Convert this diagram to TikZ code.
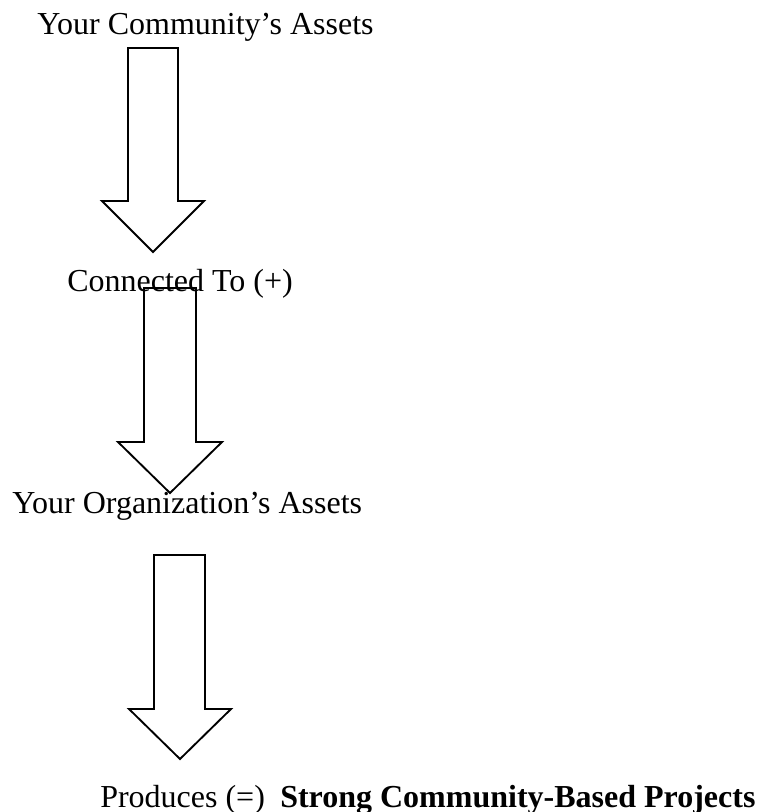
\documentclass[tikz,border=0pt]{standalone}
\usepackage{fontspec}
\setmainfont{Liberation Serif}

\tikzstyle{txt} = [inner sep=0pt,anchor=base west,font=\fontsize{24}{28}\selectfont]
\tikzstyle{blockarrow} = [draw,line width=1.4pt,line join=miter]

\begin{document}
\begin{tikzpicture}[x=0.75pt,y=-0.75pt]
  \useasboundingbox (0,0) rectangle (760,812);

  \node[txt] at (37,35)   (community) {Your Community's Assets};
  \node[txt] at (67,292)  (connected) {Connected To (+)};
  \node[txt] at (12,513)  (organization) {Your Organization's Assets};
  \node[txt] at (100,807) (produces) {Produces (=)};
  \node[txt,font=\fontsize{24}{28}\selectfont\bfseries] at (280,807) (projects) {Strong Community-Based Projects};

  \draw[blockarrow] (128,48) -- (178,48) -- (178,201) -- (204,201) -- (153,252)
                    -- (102,201) -- (128,201) -- cycle;
  \draw[blockarrow] (144,288) -- (196,288) -- (196,442) -- (222,442) -- (170,493)
                    -- (118,442) -- (144,442) -- cycle;
  \draw[blockarrow] (154,555) -- (205,555) -- (205,709) -- (231,709) -- (180,759)
                    -- (129,709) -- (154,709) -- cycle;

%   \draw[blockarrow] (community) -- (connected);
\end{tikzpicture}
\end{document}
